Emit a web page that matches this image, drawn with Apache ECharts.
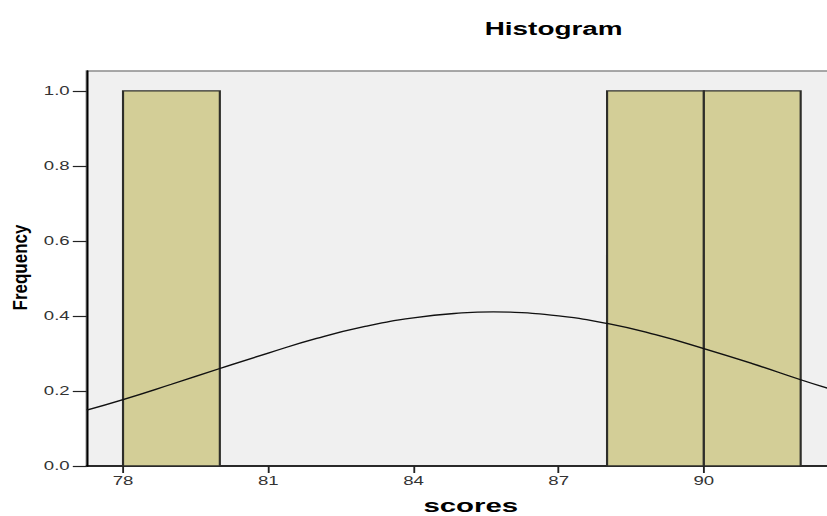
<!DOCTYPE html>
<html>
<head>
<meta charset="utf-8">
<script src="https://cdn.jsdelivr.net/npm/echarts@6/dist/echarts.min.js"></script>
<style>
  html, body { margin: 0; padding: 0; background: #ffffff; overflow: hidden; }
  #wrap { width: 827px; height: 516px; overflow: hidden; }
  #chart { width: 534px; height: 516px; transform: scaleX(1.5487); transform-origin: 0 0; }
</style>
</head>
<body>
<div id="wrap"><div id="chart"></div></div>
<script>
// Histogram bins (scores) and counts
const binStart = [78, 88, 90];
const binEnd   = [80, 90, 92];
const binCount = [1, 1, 1];

// Normal curve
const curveX = [77.25, 78, 79, 80, 81, 82, 83, 84, 85, 85.65, 86, 87, 88, 89, 90, 91, 92, 92.64];
const curveY = [0.149, 0.177, 0.218, 0.260, 0.301, 0.340, 0.372, 0.395, 0.408, 0.411, 0.410, 0.400, 0.380, 0.350, 0.313, 0.273, 0.230, 0.204];

// Tick labels
const xTicks = [78, 81, 84, 87, 90];
const yTicks = [0, 0.2, 0.4, 0.6, 0.8, 1.0];

const titleText = 'Histogram';
const xName = 'scores';
const yName = 'Frequency';

const chart = echarts.init(document.getElementById('chart'), null, { renderer: 'svg' });

const barData = binStart.map((s, i) => [s, binEnd[i], binCount[i]]);
const lineData = curveX.map((x, i) => [x, curveY[i]]);

const FONT = '"Liberation Sans", Arial, sans-serif';

chart.setOption({
  animation: false,
  backgroundColor: '#ffffff',
  title: {
    text: titleText,
    left: 308,
    top: 15,
    textStyle: { fontFamily: FONT, fontSize: 18, fontWeight: 'bold', color: '#000' }
  },
  grid: {
    left: 56, right: -3, top: 71, bottom: 50,
    show: true, backgroundColor: '#f0f0f0', borderColor: '#8c8c8c', borderWidth: 1.5,
    containLabel: false, outerBoundsMode: 'none'
  },
  xAxis: {
    type: 'value',
    min: 77.25, max: 92.64,
    name: xName,
    nameLocation: 'middle',
    nameGap: 30,
    nameTextStyle: { fontFamily: FONT, fontSize: 19, fontWeight: 'bold', color: '#000', padding: [0, 0, 0, 15] },
    axisLine: { show: true, onZero: false, lineStyle: { color: '#000', width: 1.5 } },
    axisTick: { show: true, customValues: xTicks, length: 7, lineStyle: { color: '#222', width: 1.2 } },
    axisLabel: { customValues: xTicks, fontFamily: FONT, fontSize: 12, color: '#333', margin: 9 },
    splitLine: { show: false }
  },
  yAxis: {
    type: 'value',
    min: 0, max: 1.053,
    axisLine: { show: true, onZero: false, lineStyle: { color: '#000', width: 1.3 } },
    axisTick: { show: true, customValues: yTicks, length: 9, lineStyle: { color: '#222', width: 1.2 } },
    axisLabel: { customValues: yTicks, fontFamily: FONT, fontSize: 12, color: '#333', margin: 11,
                 formatter: v => Number(v).toFixed(1) },
    splitLine: { show: false }
  },
  graphic: [{
    type: 'text',
    x: 13, y: 267.5,
    rotation: Math.PI / 2,
    scaleY: 0.75,
    style: { text: yName, font: 'bold 17px ' + FONT, fill: '#000', align: 'center', verticalAlign: 'middle' }
  }],
  series: [
    {
      type: 'custom',
      data: barData,
      encode: { x: [0, 1], y: 2 },
      clip: true,
      renderItem: function (params, api) {
        const s = api.value(0), e = api.value(1), c = api.value(2);
        const p0 = api.coord([s, c]);
        const p1 = api.coord([e, 0]);
        return {
          type: 'rect',
          shape: { x: p0[0], y: p0[1], width: p1[0] - p0[0], height: p1[1] - p0[1] },
          style: { fill: '#d3ce97', stroke: '#2e2e2a', lineWidth: 1.4 }
        };
      }
    },
    {
      type: 'line',
      data: lineData,
      smooth: true,
      showSymbol: false,
      symbol: 'none',
      clip: true,
      lineStyle: { color: '#111', width: 1.3 }
    }
  ]
});
</script>
</body>
</html>
